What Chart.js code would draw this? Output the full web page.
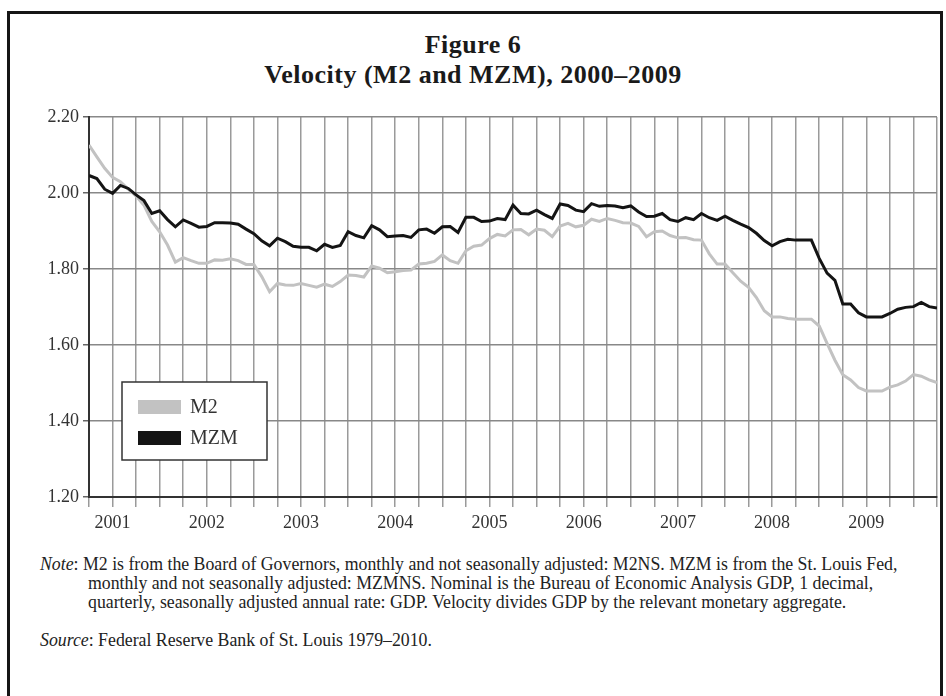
<!DOCTYPE html>
<html>
<head>
<meta charset="utf-8">
<script src="https://cdn.jsdelivr.net/npm/chart.js@4.4.1/dist/chart.umd.min.js"></script>
<style>
  html, body { margin: 0; padding: 0; background: #fff; }
  body { width: 946px; height: 696px; position: relative; overflow: hidden; font-family: "Liberation Serif", "Times New Roman", serif; color: #222; }
  #frame { position: absolute; left: 7px; top: 11px; width: 930px; height: 720px; border: 3px solid #161616; }
  #title { position: absolute; left: 0; width: 946px; top: 30px; text-align: center; font-weight: bold; font-size: 26px; line-height: 30px; letter-spacing: 0.5px; color: #1a1a1a; }
  #chartBox { position: absolute; left: 0; top: 100px; width: 946px; height: 440px; }
  .txt { position: absolute; left: 40px; font-size: 17.8px; line-height: 19px; color: #222; white-space: nowrap; }
  .txt span { display: block; }
  .txt .ind { padding-left: 48px; }
  #note { top: 555px; }
  #source { top: 631px; }
</style>
</head>
<body>
<div id="frame"></div>
<div id="title">Figure 6<br>Velocity (M2 and MZM), 2000–2009</div>
<div id="chartBox"><canvas id="velocityChart" width="946" height="440"></canvas></div>
<div id="note" class="txt"><span><i>Note</i>: M2 is from the Board of Governors, monthly and not seasonally adjusted: M2NS. MZM is from the St. Louis Fed,</span><span class="ind">monthly and not seasonally adjusted: MZMNS. Nominal is the Bureau of Economic Analysis GDP, 1 decimal,</span><span class="ind">quarterly, seasonally adjusted annual rate: GDP. Velocity divides GDP by the relevant monetary aggregate.</span></div>
<div id="source" class="txt"><i>Source</i>: Federal Reserve Bank of St. Louis 1979–2010.</div>
<script>
// monthly, Oct 2000 .. Oct 2009 (index 0 = Oct 2000)
const m2Velocity = [
  2.126, 2.095, 2.065, 2.041, 2.030, 2.010, 1.992, 1.968, 1.925, 1.898, 1.863, 1.818,
  1.830, 1.822, 1.815, 1.815, 1.824, 1.823, 1.827, 1.822, 1.812, 1.812, 1.780, 1.740,
  1.762, 1.758, 1.757, 1.762, 1.757, 1.752, 1.760, 1.754, 1.767, 1.784, 1.783, 1.779,
  1.808, 1.802, 1.790, 1.793, 1.796, 1.797, 1.813, 1.815, 1.820, 1.837, 1.822, 1.815,
  1.848, 1.860, 1.863, 1.880, 1.891, 1.887, 1.903, 1.904, 1.890, 1.905, 1.902, 1.885,
  1.913, 1.920, 1.911, 1.915, 1.931, 1.925, 1.933, 1.928, 1.922, 1.921, 1.912, 1.885,
  1.898, 1.900, 1.888, 1.882, 1.883, 1.877, 1.876, 1.840, 1.813, 1.813, 1.790, 1.768,
  1.752, 1.725, 1.690, 1.674, 1.674, 1.670, 1.668, 1.668, 1.668, 1.650, 1.604, 1.560,
  1.522, 1.508, 1.488, 1.479, 1.479, 1.479, 1.489, 1.495, 1.505, 1.522, 1.518, 1.508,
  1.501
];
const mzmVelocity = [
  2.046, 2.038, 2.010, 1.999, 2.020, 2.012, 1.995, 1.980, 1.946, 1.953, 1.930, 1.911,
  1.929, 1.920, 1.910, 1.912, 1.922, 1.922, 1.921, 1.918, 1.905, 1.893, 1.874, 1.861,
  1.881, 1.872, 1.860, 1.857, 1.857, 1.848, 1.865, 1.857, 1.862, 1.898, 1.888, 1.882,
  1.914, 1.903, 1.885, 1.887, 1.888, 1.883, 1.903, 1.905, 1.894, 1.911, 1.912, 1.896,
  1.936, 1.936, 1.925, 1.926, 1.933, 1.930, 1.968, 1.946, 1.945, 1.955, 1.943, 1.933,
  1.971, 1.967, 1.955, 1.951, 1.972, 1.965, 1.967, 1.966, 1.961, 1.966, 1.950, 1.938,
  1.939, 1.946, 1.930, 1.925, 1.935, 1.930, 1.946, 1.935, 1.928, 1.939, 1.928, 1.918,
  1.909, 1.894, 1.875, 1.861, 1.872, 1.878, 1.876, 1.876, 1.876, 1.828, 1.789, 1.770,
  1.708, 1.708, 1.685, 1.674, 1.674, 1.674, 1.683, 1.694, 1.699, 1.701, 1.712, 1.701,
  1.697
];
const yearLabels = ['2001', '2002', '2003', '2004', '2005', '2006', '2007', '2008', '2009'];
const firstJanIndex = 3; // Jan 2001
const seriesNames = ['M2', 'MZM'];
const seriesColors = ['#c2c2c2', '#141414'];

const toPoints = arr => arr.map((v, i) => ({ x: i, y: v }));

// boxed legend drawn inside the plot
const boxLegend = {
    id: 'boxLegend',
    afterDatasetsDraw(chart) {
        const ctx = chart.ctx;
        ctx.save();
        ctx.fillStyle = '#fff';
        ctx.strokeStyle = '#333';
        ctx.lineWidth = 1.5;
        ctx.fillRect(122, 282, 145, 78);
        ctx.strokeRect(122, 282, 145, 78);
        ctx.font = '20px "Liberation Serif", serif';
        ctx.textBaseline = 'middle';
        chart.data.datasets.forEach((ds, i) => {
            const y = 300 + i * 31;
            ctx.fillStyle = ds.borderColor;
            ctx.fillRect(138, y, 43, 14);
            ctx.fillStyle = '#333';
            ctx.fillText(ds.label, 190, y + 8);
        });
        ctx.restore();
    }
};

new Chart(document.getElementById('velocityChart'), {
    type: 'line',
    data: {
        datasets: [
            { label: seriesNames[0], data: toPoints(m2Velocity), borderColor: seriesColors[0], borderWidth: 3, pointRadius: 0, tension: 0, order: 1 },
            { label: seriesNames[1], data: toPoints(mzmVelocity), borderColor: seriesColors[1], borderWidth: 3, pointRadius: 0, tension: 0, order: 0 }
        ]
    },
    options: {
        responsive: false,
        animation: false,
        layout: { padding: { top: 17, right: 9, left: 0, bottom: 0 } },
        plugins: { legend: { display: false }, tooltip: { enabled: false }, title: { display: false } },
        scales: {
            x: {
                type: 'linear',
                min: 0,
                max: 108,
                afterFit: s => { s.height = 43; },
                border: { color: '#333', width: 2 },
                grid: { color: '#9a9a9a', lineWidth: 1.5, tickLength: 10, tickColor: '#9a9a9a' },
                ticks: {
                    stepSize: 3,
                    autoSkip: false,
                    maxRotation: 0,
                    padding: 5,
                    color: '#333',
                    font: { family: '"Liberation Serif", serif', size: 18 },
                    callback: v => {
                        const k = (v - firstJanIndex) / 12;
                        return Number.isInteger(k) && yearLabels[k] ? yearLabels[k] : '';
                    }
                }
            },
            y: {
                min: 1.2,
                max: 2.2,
                afterFit: s => { s.width = 89; },
                border: { color: '#333', width: 2 },
                grid: { color: '#888', lineWidth: 1.5, tickLength: 6, tickColor: '#666' },
                ticks: {
                    stepSize: 0.2,
                    padding: 4,
                    color: '#333',
                    font: { family: '"Liberation Serif", serif', size: 18 },
                    callback: v => v.toFixed(2)
                }
            }
        }
    },
    plugins: [boxLegend]
});
</script>
</body>
</html>
